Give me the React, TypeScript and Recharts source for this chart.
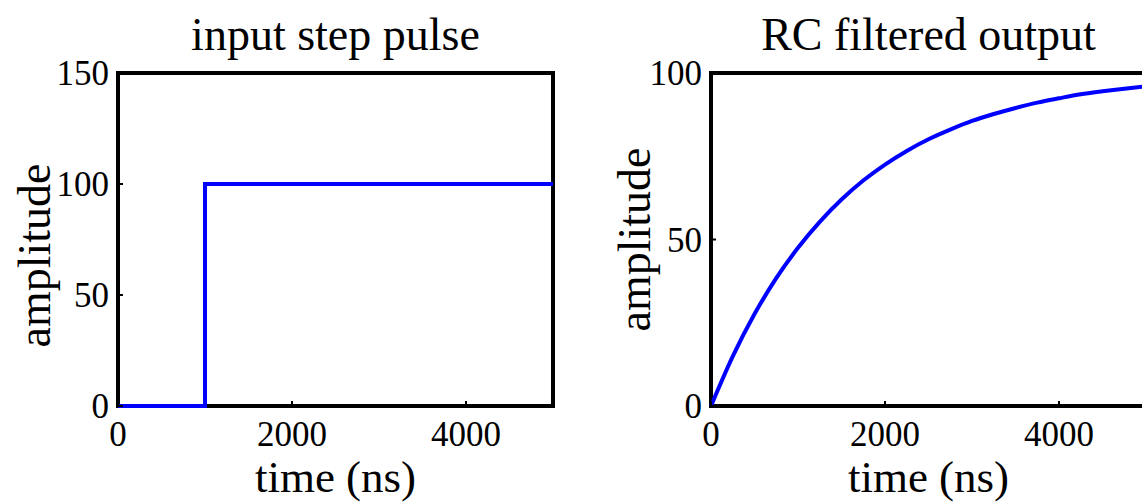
import { LineChart, Line, XAxis, YAxis, Label, ReferenceArea } from 'recharts'

const FONT = '"Liberation Serif", "Times New Roman", serif'

// input step pulse (ns, amplitude)
const stepTime = [0, 1000, 1000, 5000]
const stepAmp = [0, 0, 100, 100]

// RC filtered output, every 250 ns
const rcTime = [0, 250, 500, 750, 1000, 1250, 1500, 1750, 2000, 2250, 2500, 2750, 3000, 3250, 3500, 3750, 4000, 4250, 4500, 4750, 5000]
const rcAmp = [0, 14.9, 27.6, 38.4, 47.5, 55.3, 62.0, 67.7, 72.5, 76.6, 80.1, 83.0, 85.6, 87.7, 89.5, 91.1, 92.4, 93.6, 94.5, 95.3, 96.0]

const timeTicks = [0, 2000, 4000]
const stepTicks = [0, 50, 100, 150]
const rcTicks = [0, 50, 100]

const stepData = stepTime.map((t, i) => ({ t, a: stepAmp[i] }))
const rcData = rcTime.map((t, i) => ({ t, a: rcAmp[i] }))

const tickLine = { stroke: '#000', strokeWidth: 2 }
const tickText = { fill: '#000', fontSize: 35, fontFamily: FONT }

function bigText(x: number, y: number, text: string, size: number, rotate = false) {
  return (
    <text
      x={x}
      y={y}
      textAnchor="middle"
      fontSize={size}
      fontFamily={FONT}
      fill="#000"
      transform={rotate ? `rotate(-90 ${x} ${y})` : undefined}
    >
      {text}
    </text>
  )
}

interface PanelProps {
  title: string
  data: { t: number; a: number }[]
  yMax: number
  yTicks: number[]
  yAxisWidth: number
  marginRight: number
  curve: 'linear' | 'monotone'
  yLabelShift: number
}

function Panel({ title, data, yMax, yTicks, yAxisWidth, marginRight, curve, yLabelShift }: PanelProps) {
  return (
    <LineChart width={600} height={502} data={data} margin={{ top: 72, right: marginRight, bottom: 0, left: 0 }}>
      <XAxis
        xAxisId="b"
        dataKey="t"
        type="number"
        domain={[0, 5000]}
        ticks={timeTicks}
        height={96}
        axisLine={false}
        tickLine={tickLine}
        tickSize={-5}
        tickMargin={20}
        tick={tickText}
        interval={0}
      >
        <Label content={(p: any) => bigText(p.viewBox.x + p.viewBox.width / 2, p.viewBox.y + 86, 'time (ns)', 45)} />
      </XAxis>
      <XAxis
        xAxisId="t"
        orientation="top"
        dataKey="t"
        type="number"
        domain={[0, 5000]}
        ticks={timeTicks}
        height={1}
        axisLine={false}
        tickLine={tickLine}
        tickSize={-5}
        tick={false}
      >
        <Label content={(p: any) => bigText(p.viewBox.x + p.viewBox.width / 2, p.viewBox.y - 22, title, 46)} />
      </XAxis>
      <YAxis
        yAxisId="l"
        type="number"
        domain={[0, yMax]}
        ticks={yTicks}
        width={yAxisWidth}
        axisLine={false}
        tickLine={tickLine}
        tickSize={-5}
        tickMargin={14}
        tick={tickText}
        interval={0}
      >
        <Label
          content={(p: any) =>
            bigText(p.viewBox.x + 50, p.viewBox.y + p.viewBox.height / 2 + yLabelShift, 'amplitude', 46, true)
          }
        />
      </YAxis>
      <YAxis
        yAxisId="r"
        orientation="right"
        type="number"
        domain={[0, yMax]}
        ticks={yTicks}
        width={1}
        axisLine={false}
        tickLine={tickLine}
        tickSize={-5}
        tick={false}
      />
      <ReferenceArea
        xAxisId="b"
        yAxisId="l"
        x1={0}
        x2={5000}
        y1={0}
        y2={yMax}
        fill="none"
        fillOpacity={0}
        stroke="#000"
        strokeWidth={4}
        ifOverflow="visible"
      />
      <Line
        xAxisId="b"
        yAxisId="l"
        dataKey="a"
        type={curve}
        stroke="#0000ff"
        strokeWidth={4}
        dot={false}
        activeDot={false}
        isAnimationActive={false}
      />
    </LineChart>
  )
}

export default function App() {
  return (
    <div style={{ position: 'fixed', left: 0, top: 0, width: 1142, height: 502, overflow: 'hidden', background: '#fff' }}>
      <div style={{ position: 'absolute', left: 0, top: 0 }}>
        <Panel
          title="input step pulse"
          data={stepData}
          yMax={150}
          yTicks={stepTicks}
          yAxisWidth={118}
          marginRight={46}
          curve="linear"
          yLabelShift={16}
        />
      </div>
      <div style={{ position: 'absolute', left: 600, top: 0 }}>
        <Panel
          title="RC filtered output"
          data={rcData}
          yMax={100}
          yTicks={rcTicks}
          yAxisWidth={111}
          marginRight={53}
          curve="monotone"
          yLabelShift={0}
        />
      </div>
    </div>
  )
}
